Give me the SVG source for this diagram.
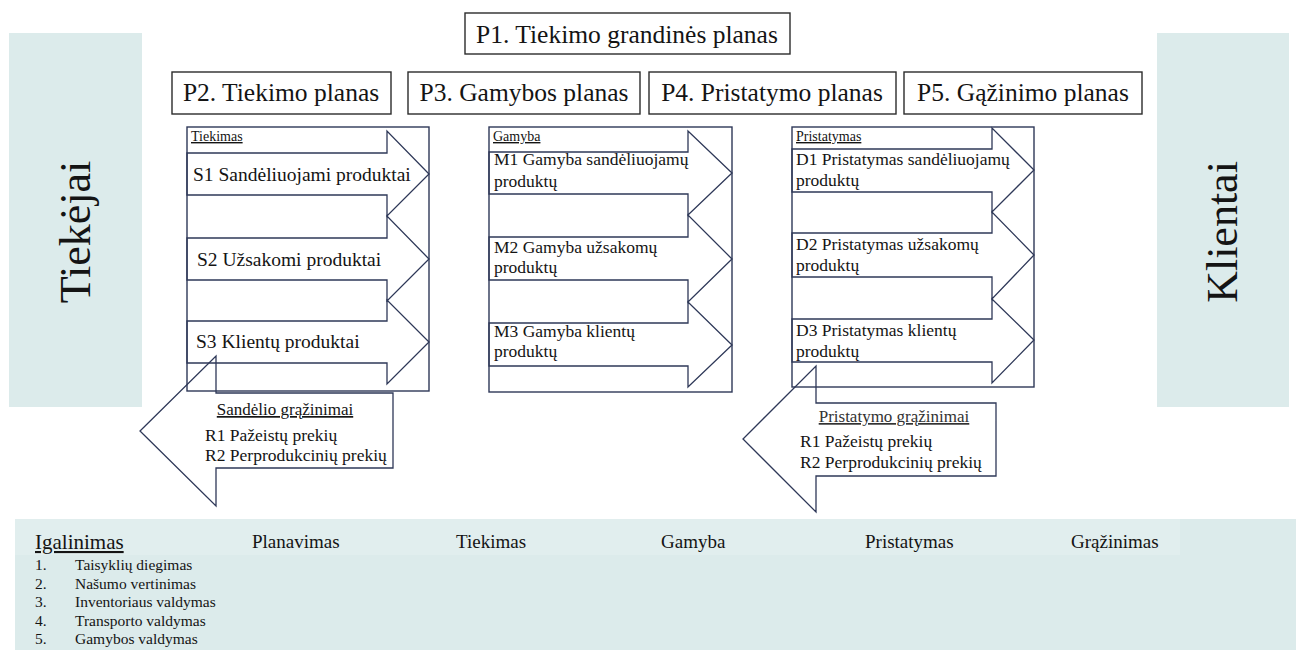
<svg xmlns="http://www.w3.org/2000/svg" width="1296" height="650" viewBox="0 0 1296 650">
  <style>
    text { font-family: "Liberation Serif", "Times New Roman", serif; fill: #141414; }
    .panel { fill: #dcebeb; }
    .plan { fill: #ffffff; stroke: #2b2b2b; stroke-width: 1.4; }
    .plan-t { font-size: 25.5px; text-anchor: middle; }
    .side { font-size: 44px; text-anchor: middle; }
    .frame { fill: none; stroke: #2e3858; stroke-width: 1.4; }
    .arrow { fill: none; stroke: #2e3858; stroke-width: 1.3; stroke-linejoin: miter; }
    .hdr { font-size: 14px; text-decoration: underline; }
    .s { font-size: 19.5px; }
    .m { font-size: 17.5px; }
    .ret-h { font-size: 17px; text-decoration: underline; text-anchor: middle; }
    .ret { font-size: 17.5px; }
    .band-h { font-size: 19px; }
    .lead { font-size: 21px; text-decoration: underline; }
    .li { font-size: 15.5px; }
  </style>

  <!-- side panels -->
  <g id="tiekejai">
    <rect class="panel" x="9" y="33" width="133" height="374"/>
    <text class="side" transform="translate(90,232) rotate(-90)">Tiekėjai</text>
  </g>
  <g id="klientai">
    <rect class="panel" x="1157" y="33" width="132" height="374"/>
    <text class="side" transform="translate(1237,232) rotate(-90)">Klientai</text>
  </g>

  <!-- plan headers -->
  <g id="p1">
    <rect class="plan" x="465" y="13" width="325" height="41"/>
    <text class="plan-t" x="627" y="43">P1. Tiekimo grandinės planas</text>
  </g>
  <g id="p2">
    <rect class="plan" x="172" y="72" width="219" height="42"/>
    <text class="plan-t" x="281" y="101">P2. Tiekimo planas</text>
  </g>
  <g id="p3">
    <rect class="plan" x="408" y="72" width="232" height="42"/>
    <text class="plan-t" x="524" y="101">P3. Gamybos planas</text>
  </g>
  <g id="p4">
    <rect class="plan" x="649" y="72" width="247" height="42"/>
    <text class="plan-t" x="772" y="101">P4. Pristatymo planas</text>
  </g>
  <g id="p5">
    <rect class="plan" x="904" y="72" width="238" height="42"/>
    <text class="plan-t" x="1023" y="101">P5. Gąžinimo planas</text>
  </g>

  <!-- supply column -->
  <g id="tiekimas">
    <rect class="frame" x="187" y="127" width="242" height="264"/>
    <path class="arrow" d="M187 153 H387 V131 L429 174 L387 216 V195 H187 Z"/>
    <path class="arrow" d="M187 238 H387 V216 L429 259 L387 301 V280 H187 Z"/>
    <path class="arrow" d="M187 321 H387 V300 L429 342 L387 384 V363 H187 Z"/>
    <text class="hdr" x="191" y="141">Tiekimas</text>
    <text class="s" x="193" y="181">S1 Sandėliuojami  produktai</text>
    <text class="s" x="197" y="266">S2 Užsakomi produktai</text>
    <text class="s" x="196" y="348">S3 Klientų produktai</text>
  </g>

  <!-- production column -->
  <g id="gamyba">
    <rect class="frame" x="489" y="127" width="243" height="265"/>
    <path class="arrow" d="M489 152 H688 V131 L732 173 L688 215 V194 H489 Z"/>
    <path class="arrow" d="M489 237 H688 V215 L732 259 L688 302 V280 H489 Z"/>
    <path class="arrow" d="M489 323 H688 V302 L732 345 L688 387 V366 H489 Z"/>
    <text class="hdr" x="493" y="141">Gamyba</text>
    <text class="m" x="494" y="165">M1 Gamyba sandėliuojamų</text>
    <text class="m" x="494" y="187">produktų</text>
    <text class="m" x="494" y="253">M2 Gamyba užsakomų</text>
    <text class="m" x="494" y="273">produktų</text>
    <text class="m" x="494" y="337">M3 Gamyba klientų</text>
    <text class="m" x="494" y="357">produktų</text>
  </g>

  <!-- delivery column -->
  <g id="pristatymas">
    <rect class="frame" x="792" y="127" width="242" height="260"/>
    <path class="arrow" d="M792 149 H992 V128 L1034 170 L992 212 V192 H792 Z"/>
    <path class="arrow" d="M792 233 H992 V212 L1034 255 L992 299 V277 H792 Z"/>
    <path class="arrow" d="M792 319 H992 V299 L1034 340 L992 383 V362 H792 Z"/>
    <text class="hdr" x="796" y="141">Pristatymas</text>
    <text class="m" x="796" y="165">D1 Pristatymas sandėliuojamų</text>
    <text class="m" x="796" y="186">produktų</text>
    <text class="m" x="796" y="250">D2 Pristatymas užsakomų</text>
    <text class="m" x="796" y="271">produktų</text>
    <text class="m" x="796" y="336">D3 Pristatymas klientų</text>
    <text class="m" x="796" y="357">produktų</text>
  </g>

  <!-- return flows -->
  <g id="connectors">
    <g id="sandelio-grazinimai">
      <path class="arrow" d="M393 393 H216 V356 L140 431 L216 506 V468 H393 Z"/>
      <text class="ret-h" x="285" y="415">Sandėlio grąžinimai</text>
      <text class="ret" x="205" y="441">R1 Pažeistų prekių</text>
      <text class="ret" x="205" y="461">R2 Perprodukcinių prekių</text>
    </g>
    <g id="pristatymo-grazinimai">
      <path class="arrow" d="M996 403 H816 V366 L743 439 L816 512 V476 H996 Z"/>
      <text class="ret-h" x="894" y="422" style="fill:#333">Pristatymo grąžinimai</text>
      <text class="ret" x="800" y="447">R1 Pažeistų prekių</text>
      <text class="ret" x="800" y="468">R2 Perprodukcinių prekių</text>
    </g>
  </g>

  <!-- enabling band -->
  <g id="igalinimas">
    <rect class="panel" x="15" y="519" width="1281" height="131"/>
    <rect x="15" y="519" width="1165" height="36" fill="#e1eeee"/>
    <text class="lead" x="35" y="549">Igalinimas</text>
    <text class="li" x="35" y="570">1.</text>
    <text class="li" x="75" y="570">Taisyklių diegimas</text>
    <text class="li" x="35" y="588.5">2.</text>
    <text class="li" x="75" y="588.5">Našumo vertinimas</text>
    <text class="li" x="35" y="607">3.</text>
    <text class="li" x="75" y="607">Inventoriaus valdymas</text>
    <text class="li" x="35" y="625.5">4.</text>
    <text class="li" x="75" y="625.5">Transporto valdymas</text>
    <text class="li" x="35" y="644">5.</text>
    <text class="li" x="75" y="644">Gamybos valdymas</text>
    <text class="band-h" x="252" y="548">Planavimas</text>
    <text class="band-h" x="456" y="548">Tiekimas</text>
    <text class="band-h" x="661" y="548">Gamyba</text>
    <text class="band-h" x="865" y="548">Pristatymas</text>
    <text class="band-h" x="1071" y="548">Grąžinimas</text>
  </g>
</svg>
